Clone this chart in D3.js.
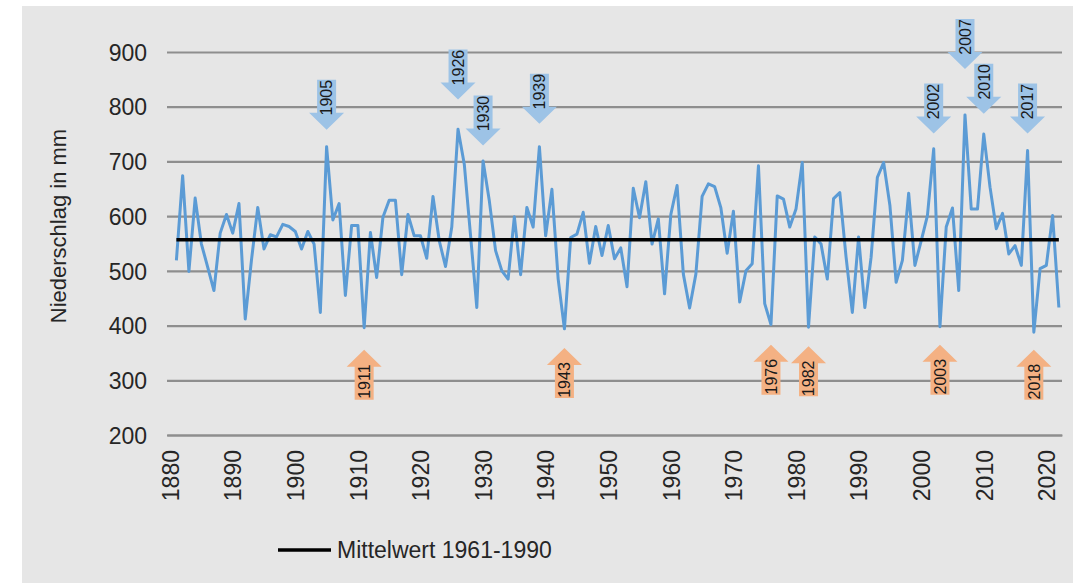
<!DOCTYPE html>
<html>
<head>
<meta charset="utf-8">
<script src="https://cdn.jsdelivr.net/npm/d3@7"></script>
<style>
  body { margin: 0; background: #fff; }
  svg { display: block; font-family: "Liberation Sans", Arial, sans-serif; }
</style>
</head>
<body>
<svg width="1073" height="583"></svg>
<script>
// Jahresniederschlag 1881-2022 (mm)
var years = d3.range(1881, 2023);
var precip = [
	519, 674, 499, 633, 549, 507, 464, 569, 603, 569,   // 1881-1890
	623, 412, 520, 616, 540, 566, 562, 585, 581, 572,   // 1891-1900
	540, 572, 549, 424, 727, 593, 623, 455, 583, 583,   // 1901-1910
	396, 570, 488, 598, 629, 629, 493, 603, 564, 564,   // 1911-1920
	523, 636, 555, 508, 580, 759, 695, 565, 433, 701,   // 1921-1930
	628, 537, 500, 485, 599, 493, 616, 580, 727, 564,   // 1931-1940
	649, 485, 394, 561, 567, 607, 514, 581, 528, 583,   // 1941-1950
	522, 542, 471, 651, 597, 663, 549, 595, 458, 603,   // 1951-1960
	656, 494, 432, 494, 636, 659, 654, 615, 532, 609,   // 1961-1970
	443, 500, 513, 692, 440, 402, 637, 631, 580, 613,   // 1971-1980
	698, 397, 562, 549, 485, 632, 643, 525, 424, 562,   // 1981-1990
	433, 525, 671, 698, 620, 479, 519, 642, 510, 555,   // 1991-2000
	601, 723, 398, 580, 615, 464, 785, 613, 613, 750,   // 2001-2010
	653, 577, 605, 531, 546, 510, 720, 388, 504, 510,   // 2011-2020
	601, 433                                            // 2021-2022
];
var meanValue = 557;   // Mittelwert 1961-1990

var yTicks = [200, 300, 400, 500, 600, 700, 800, 900];
var xTicks = d3.range(1880, 2021, 10);

// nasse Jahre (Pfeil nach unten) und trockene Jahre (Pfeil nach oben); tip = Pfeilspitze in mm
var wetYears = [1905, 1926, 1930, 1939, 2002, 2007, 2010, 2017];
var wetTips  = [758, 813, 729, 769, 751, 869, 787, 751];
var dryYears = [1911, 1943, 1976, 1982, 2003, 2018];
var dryTips  = [356, 359, 365, 362, 365, 356];

var svg = d3.select("svg");

svg.append("rect")
	.attr("x", 22).attr("y", 6)
	.attr("width", 1051).attr("height", 577)
	.attr("fill", "#e6e6e6");

var x = d3.scaleLinear().domain([1879.5, 2022.5]).range([167, 1062]);
var y = d3.scaleLinear().domain([200, 900]).range([435, 52]);

var gridColor = "#8e8e8e";
var textColor = "#262626";

// y axis with gridlines
var yAxis = svg.append("g")
	.attr("transform", "translate(167,0)")
	.call(d3.axisLeft(y).tickValues(yTicks).tickSize(-895).tickPadding(20));
yAxis.select(".domain").remove();
yAxis.selectAll(".tick line").attr("stroke", gridColor).attr("stroke-width", 2.2);
yAxis.selectAll(".tick text")
	.attr("fill", textColor)
	.style("font-size", "23px")
	.attr("dy", "0.36em");

// x axis
var xAxis = svg.append("g")
	.attr("transform", "translate(0," + y(200) + ")")
	.call(d3.axisBottom(x).tickValues(xTicks).tickSize(0).tickFormat(d3.format("d")));
xAxis.select(".domain").attr("stroke", gridColor).attr("stroke-width", 2.2);
xAxis.selectAll(".tick text")
	.attr("fill", textColor)
	.style("font-size", "23px")
	.attr("text-anchor", "end")
	.attr("transform", "translate(0,15) rotate(-90)")
	.attr("x", 0).attr("y", 0)
	.attr("dy", "0.36em");

// Achsentitel
svg.append("text")
	.attr("transform", "translate(66,226) rotate(-90)")
	.attr("text-anchor", "middle")
	.attr("fill", textColor)
	.style("font-size", "22px")
	.text("Niederschlag in mm");

// Niederschlagskurve
var line = d3.line()
	.x(function(d, i) { return x(years[i]); })
	.y(function(d) { return y(d); });

svg.append("path")
	.datum(precip)
	.attr("d", line)
	.attr("fill", "none")
	.attr("stroke", "#5b9bd5")
	.attr("stroke-width", 3)
	.attr("stroke-linejoin", "round");

// Mittelwert
svg.append("line")
	.attr("x1", x(years[0])).attr("x2", x(years[years.length - 1]))
	.attr("y1", y(meanValue)).attr("y2", y(meanValue))
	.attr("stroke", "#000")
	.attr("stroke-width", 3.5);

// Pfeile
var headLen = 17, totalLen = 50, shaftW = 9.5, headW = 17.5;
function arrowPath(dir) {
	// dir = 1: Spitze unten, dir = -1: Spitze oben
	var h = -dir * headLen, t = -dir * totalLen;
	return "M0,0L" + headW + "," + h + "L" + shaftW + "," + h + "L" + shaftW + "," + t +
		"L" + (-shaftW) + "," + t + "L" + (-shaftW) + "," + h + "L" + (-headW) + "," + h + "Z";
}

function drawArrows(yearsArr, tips, dir, fill) {
	var g = svg.selectAll(null)
		.data(yearsArr)
		.enter().append("g")
		.attr("transform", function(d, i) { return "translate(" + x(d) + "," + y(tips[i]) + ")"; });
	g.append("path")
		.attr("d", arrowPath(dir))
		.attr("fill", fill);
	g.append("text")
		.attr("transform", "translate(0," + (-dir * (totalLen - 18)) + ") rotate(-90)")
		.attr("text-anchor", "middle")
		.attr("dy", "0.36em")
		.attr("fill", "#1a1a1a")
		.style("font-size", "16px")
		.text(function(d) { return d; });
}
drawArrows(wetYears, wetTips, 1, "#9dc3e6");
drawArrows(dryYears, dryTips, -1, "#f4b183");

// Legende
var legend = svg.append("g").attr("transform", "translate(278,550)");
legend.append("line")
	.attr("x1", 0).attr("x2", 53)
	.attr("stroke", "#000").attr("stroke-width", 3.5);
legend.append("text")
	.attr("x", 59).attr("dy", "0.36em")
	.attr("fill", textColor)
	.style("font-size", "23px")
	.text("Mittelwert 1961-1990");
</script>
</body>
</html>
